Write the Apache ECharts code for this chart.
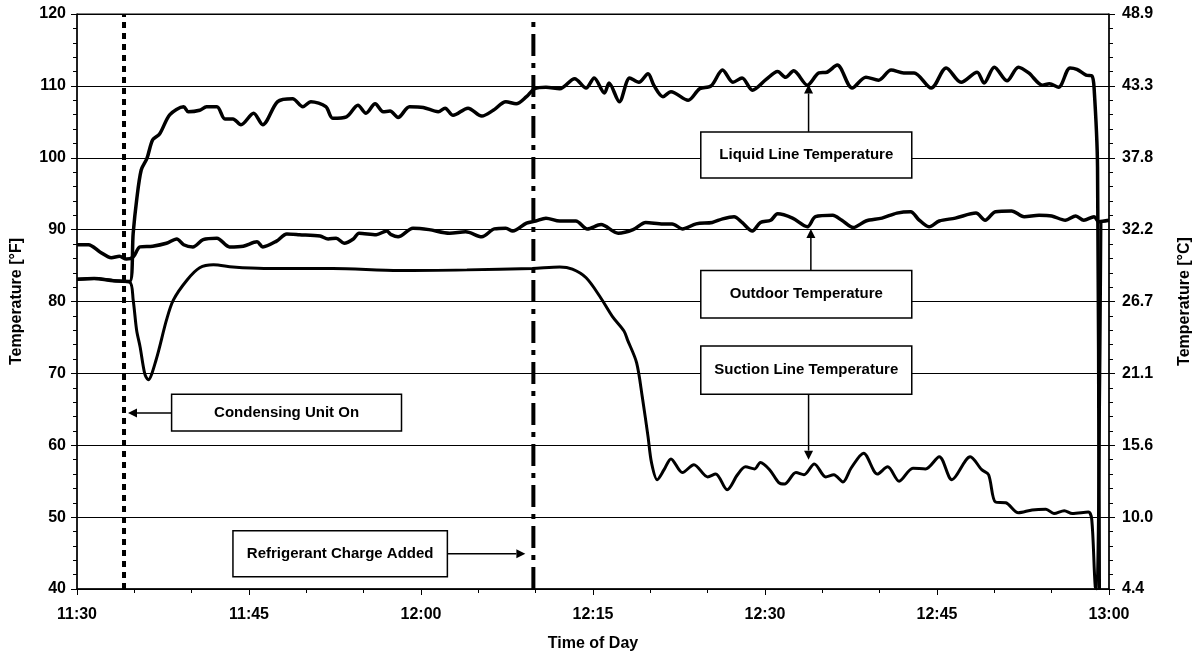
<!DOCTYPE html>
<html>
<head>
<meta charset="utf-8">
<script src="https://cdn.jsdelivr.net/npm/echarts@6/dist/echarts.min.js"></script>
<style>
html,body{margin:0;padding:0;background:#fff;}
#chart{width:1196px;height:653px;}
</style>
</head>
<body>
<div id="chart"></div>
<script>
// ---- tick labels ----
const timeLabels = ['11:30','11:45','12:00','12:15','12:30','12:45','13:00'];
const celsiusLabels = ['4.4','10.0','15.6','21.1','26.7','32.2','37.8','43.3','48.9'];

// ---- series data: minutes after 11:30, temperature in °F ----
const liquidTime = [0,1.5,3.2,4.6,4.9,5.2,5.6,6.1,6.6,7.2,8.1,9.3,9.7,10.7,11.3,12.2,12.9,13.6,14.3,15.4,16.2,17.5,18.8,19.7,20.4,21.7,22.3,23.5,24.5,25.2,26.0,26.7,27.3,28.0,29.0,30.2,31.5,32.1,32.8,34.1,35.3,36.3,37.4,38.3,39.2,39.9,40.9,42.1,43.4,44.4,45.1,46.0,46.4,47.3,48.2,49.0,49.8,50.3,51.1,51.8,53.3,54.3,55.3,56.3,57.2,58.0,58.9,60.1,61.1,61.8,62.5,63.7,64.7,65.4,66.3,67.6,68.8,69.9,71.0,72.1,73.0,74.5,75.8,77.1,78.5,79.1,80.0,81.1,82.1,83.0,84.2,84.8,85.6,86.6,87.2,88.0,88.5,88.7,89.0,89.15];
const liquidTemp = [83.1,83.2,82.9,82.8,89.5,94.1,98.3,99.9,102.5,103.3,106.0,107.1,106.4,106.6,107.1,107.1,105.4,105.4,104.6,106.2,104.6,107.8,108.2,107.1,107.8,107.1,105.5,105.7,107.3,106.2,107.5,106.4,106.5,105.6,107.1,107.0,106.4,106.9,105.9,106.9,105.8,106.6,107.8,107.5,108.5,109.6,109.8,109.6,111.0,109.7,111.1,109.0,110.4,107.8,111.1,110.5,111.7,110.1,108.5,109.2,108.0,109.6,110.0,112.2,110.5,111.1,109.4,110.9,112.0,111.2,112.1,110.1,111.8,111.9,112.9,109.7,111.2,110.8,112.2,111.8,111.8,109.7,112.5,110.5,111.9,110.4,112.6,110.7,112.6,111.8,110.1,110.3,109.8,112.5,112.3,111.5,111.4,109.7,98.7,40];

const outdoorTime = [0,1.0,2.0,3.0,3.7,4.3,4.9,5.5,6.6,7.8,8.7,9.3,10.1,11.0,12.2,13.3,14.5,15.7,16.2,17.4,18.3,19.4,21.2,21.9,22.6,23.3,24.1,24.6,26.1,27.0,27.4,28.0,29.3,30.7,32.5,33.9,35.3,36.4,37.4,38.0,39.2,40.0,40.9,42.1,43.5,44.5,45.7,47.2,48.5,49.6,51.1,51.9,52.8,54.0,55.4,56.3,57.3,58.0,58.9,59.6,60.5,61.1,62.4,63.7,64.4,65.9,66.7,67.7,68.8,70.2,71.5,72.7,73.4,74.3,75.2,76.6,78.4,79.2,80.1,81.5,82.6,83.9,85.0,86.2,87.1,87.8,88.7,89.1,90.0];
const outdoorTemp = [87.9,87.9,86.9,86.1,86.3,85.9,86.2,87.6,87.7,88.1,88.7,87.9,87.6,88.6,88.8,87.6,87.7,88.3,87.6,88.4,89.4,89.3,89.1,88.7,88.8,88.1,88.7,89.5,89.3,89.8,89.3,89.0,90.2,90.0,89.5,89.7,89.0,90.1,90.2,89.8,90.9,91.2,91.6,91.2,91.2,90.1,90.7,89.5,90.0,91.0,90.8,90.8,90.1,90.8,91.0,91.5,91.8,91.0,89.8,91.0,91.3,92.2,91.6,90.4,91.8,92.0,91.3,90.3,91.2,91.6,92.3,92.5,91.4,90.4,91.2,91.6,92.3,91.3,92.5,92.6,91.8,92.0,91.9,91.3,91.9,91.3,91.8,91.1,91.3];

const suctionTime = [0,1.5,3.2,4.6,4.9,5.2,5.5,5.9,6.2,6.9,7.8,8.4,9.6,10.7,11.9,13.6,16.3,22.3,28.1,34.0,39.7,42.1,43.2,44.4,45.6,46.7,47.7,48.0,48.8,49.3,49.8,50.1,50.6,51.2,51.8,52.8,53.8,55.0,55.7,56.7,57.6,58.3,59.1,59.6,60.4,61.2,61.7,62.7,63.4,64.3,65.3,66.0,66.8,67.5,68.6,69.8,70.7,71.7,72.9,74.0,75.2,76.3,77.9,78.9,79.5,80.1,81.0,82.1,83.3,84.5,85.2,86.1,86.8,88.2,88.5,88.8,88.95,89.3];
const suctionTemp = [83.1,83.2,82.9,82.7,80.2,76.0,73.7,70.0,69.1,71.9,77.4,80.2,83.0,84.7,85.1,84.8,84.6,84.6,84.3,84.4,84.6,84.8,84.5,83.3,80.7,77.9,75.9,74.7,71.5,66.7,61.2,57.6,55.2,56.6,58.1,56.2,57.3,55.6,56.0,53.8,55.9,57.0,56.7,57.6,56.6,54.8,54.6,56.2,55.9,57.4,55.6,55.9,54.9,56.8,58.9,56.0,57.0,55.0,56.8,56.7,58.4,55.2,58.4,56.6,55.9,52.1,52.0,50.6,51.0,51.1,50.5,50.9,50.5,50.7,49.6,40.3,40,91.0];

// event markers (minutes after 11:30)
const condensingOnTime = 4.1;
const chargeAddedTime = 39.8;

function pairs(ts, vs){ return ts.map((t,i)=>[t, vs[i]]); }

const FONT = '"Liberation Sans", Arial, sans-serif';
const chart = echarts.init(document.getElementById('chart'));

const lineSeries = (name, ts, vs, w) => ({
  name, type:'line', data: pairs(ts, vs), showSymbol:false, symbol:'none',
  smooth:0.3, lineStyle:{color:'#000', width:w}, z:3, animation:false
});

chart.setOption({
  backgroundColor:'#fff',
  animation:false,
  grid:{left:77, right:87, top:14, bottom:64, containLabel:false, outerBoundsMode:'none',
    show:true, borderColor:'#000', borderWidth:1},
  xAxis:{
    type:'value', min:0, max:90, interval:15,
    name:'Time of Day', nameLocation:'middle', nameGap:47,
    nameTextStyle:{fontFamily:FONT, fontWeight:'bold', fontSize:16, color:'#000'},
    axisLine:{lineStyle:{color:'#000', width:1.5}},
    axisTick:{show:true, length:6, lineStyle:{color:'#000'}},
    minorTick:{show:true, splitNumber:3, length:4, lineStyle:{color:'#000'}},
    axisLabel:{margin:18, fontFamily:FONT, fontWeight:'bold', fontSize:16, color:'#000',
      formatter:v=>timeLabels[Math.round(v/15)]},
    splitLine:{show:false}
  },
  yAxis:[{
    type:'value', min:40, max:120, interval:10, position:'left',
    name:'Temperature [°F]', nameLocation:'middle', nameGap:52, nameRotate:90,
    nameTextStyle:{fontFamily:FONT, fontWeight:'bold', fontSize:16, color:'#000'},
    axisLine:{show:true, lineStyle:{color:'#000', width:1.5}},
    axisTick:{show:true, length:6, lineStyle:{color:'#000'}},
    minorTick:{show:true, splitNumber:5, length:4, lineStyle:{color:'#000'}},
    axisLabel:{margin:11, fontFamily:FONT, fontWeight:'bold', fontSize:16, color:'#000'},
    splitLine:{show:true, lineStyle:{color:'#000', width:1}}
  },{
    type:'value', min:40, max:120, interval:10, position:'right',
    name:'Temperature [°C]', nameLocation:'middle', nameGap:68, nameRotate:90,
    nameTextStyle:{fontFamily:FONT, fontWeight:'bold', fontSize:16, color:'#000'},
    axisLine:{show:true, lineStyle:{color:'#000', width:1.5}},
    axisTick:{show:true, length:6, lineStyle:{color:'#000'}},
    minorTick:{show:true, splitNumber:5, length:4, lineStyle:{color:'#000'}},
    axisLabel:{margin:13, fontFamily:FONT, fontWeight:'bold', fontSize:16, color:'#000',
      formatter:v=>celsiusLabels[Math.round((v-40)/10)]},
    splitLine:{show:false}
  }],
  series:[
    {name:'Condensing Unit On', type:'line', data:[[condensingOnTime,40],[condensingOnTime,120]],
      showSymbol:false, symbol:'none', lineStyle:{color:'#000', width:4, type:[6,5]}, z:2},
    {name:'Refrigerant Charge Added', type:'line', data:[[chargeAddedTime,40],[chargeAddedTime,120]],
      showSymbol:false, symbol:'none', lineStyle:{color:'#000', width:4, type:[22,7,5,7]}, z:2},
    lineSeries('Suction Line Temperature', suctionTime, suctionTemp, 3),
    lineSeries('Outdoor Temperature', outdoorTime, outdoorTemp, 3.5),
    lineSeries('Liquid Line Temperature', liquidTime, liquidTemp, 3.5)
  ]
});

// ---- annotation callouts, anchored in data units (minutes, °F) ----
const notes = [
  {text:'Liquid Line Temperature', box:[54.4,103.6,72.8,97.2], from:[63.8,103.6], to:[63.8,110.2]},
  {text:'Outdoor Temperature', box:[54.4,84.3,72.8,77.7], from:[64.0,84.3], to:[64.0,90.1]},
  {text:'Suction Line Temperature', box:[54.4,73.8,72.8,67.1], from:[63.8,67.1], to:[63.8,58.0]},
  {text:'Condensing Unit On', box:[8.25,67.1,28.3,62.0], from:[8.25,64.5], to:[4.45,64.5]},
  {text:'Refrigerant Charge Added', box:[13.6,48.1,32.3,41.7], from:[32.3,44.9], to:[39.1,44.9]}
];
function px(t,v){ return chart.convertToPixel({xAxisIndex:0, yAxisIndex:0}, [t,v]); }
const els = [];
notes.forEach(n=>{
  const a = px(n.box[0], n.box[1]), b = px(n.box[2], n.box[3]);
  const f = px(n.from[0], n.from[1]), t = px(n.to[0], n.to[1]);
  const dx = t[0]-f[0], dy = t[1]-f[1], L = Math.hypot(dx,dy);
  const ux = dx/L, uy = dy/L, hl = 9, hw = 4.5;
  const bx = t[0]-ux*hl, by = t[1]-uy*hl;
  els.push({type:'line', z:10, shape:{x1:f[0], y1:f[1], x2:bx, y2:by}, style:{stroke:'#000', lineWidth:1.5}});
  els.push({type:'polygon', z:10, shape:{points:[[t[0],t[1]],[bx-uy*hw, by+ux*hw],[bx+uy*hw, by-ux*hw]]}, style:{fill:'#000'}});
  els.push({type:'rect', z:11, shape:{x:a[0], y:a[1], width:b[0]-a[0], height:b[1]-a[1]}, style:{fill:'#fff', stroke:'#000', lineWidth:1.5}});
  els.push({type:'text', z:12, style:{text:n.text, x:(a[0]+b[0])/2, y:(a[1]+b[1])/2, align:'center', verticalAlign:'middle',
    textAlign:'center', textVerticalAlign:'middle', font:'bold 15px ' + FONT, fill:'#000'}});
});
chart.setOption({graphic:els});
</script>
</body>
</html>
